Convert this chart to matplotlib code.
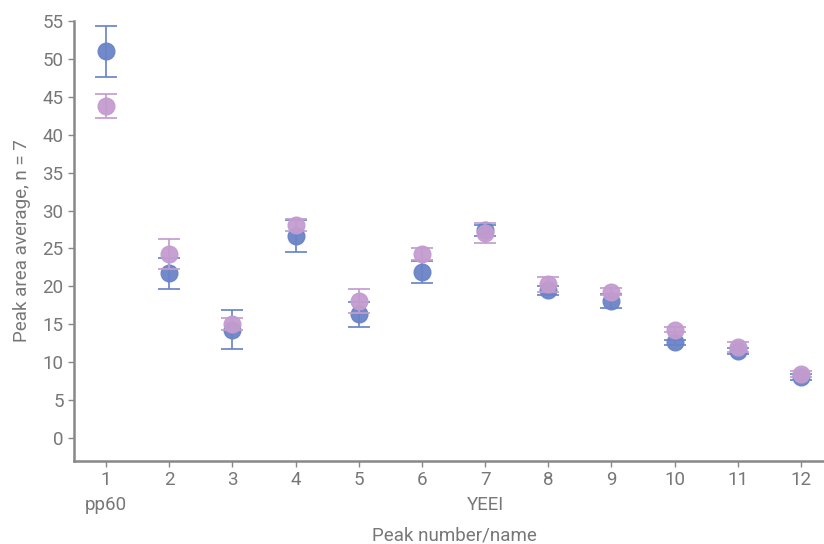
import matplotlib
matplotlib.use("Agg")
import matplotlib.pyplot as plt

peaks = [1, 2, 3, 4, 5, 6, 7, 8, 9, 10, 11, 12]
tick_labels = ["1\npp60", "2", "3", "4", "5", "6", "7\nYEEI", "8", "9", "10", "11", "12"]
blue_mean = [51.0, 21.7, 14.3, 26.7, 16.3, 21.9, 27.4, 19.5, 18.1, 12.6, 11.5, 8.1]
blue_err = [3.4, 2.1, 2.6, 2.1, 1.7, 1.4, 0.7, 0.6, 0.9, 0.3, 0.4, 0.4]
purple_mean = [43.8, 24.3, 15.0, 28.1, 18.1, 24.3, 27.05, 20.3, 19.3, 14.3, 12.0, 8.5]
purple_err = [1.6, 2.0, 0.8, 0.8, 1.6, 0.8, 1.35, 1.0, 0.5, 0.3, 0.6, 0.4]

plt.rcParams['font.family'] = ['Roboto', 'DejaVu Sans']
text_color = '#777777'

fig = plt.figure(figsize=(8.24, 5.44), dpi=100)
ax = fig.add_axes([74/824, (544-461)/544, 1 - 74/824, (461-21)/544])

blue = '#6a84c8'
purple = '#c39ccf'
ax.errorbar(peaks, blue_mean, yerr=blue_err, fmt='o', color=blue, ms=12,
            capsize=8, elinewidth=1.3, capthick=1.3, alpha=0.95, zorder=3)
ax.errorbar(peaks, purple_mean, yerr=purple_err, fmt='o', color=purple, ms=12,
            capsize=8, elinewidth=1.3, capthick=1.3, alpha=0.95, zorder=4)

ax.set_xlim(0.4935, 12.364)
ax.set_ylim(-3.03, 55)
ax.set_xticks(peaks)
ax.set_xticklabels(tick_labels, linespacing=1.45)
ax.set_yticks(range(0, 56, 5))

for s in ['top', 'right']:
    ax.spines[s].set_visible(False)
for s in ['left', 'bottom']:
    ax.spines[s].set_color('#888888')
    ax.spines[s].set_linewidth(1.8)

ax.tick_params(axis='both', colors='#888888', labelcolor=text_color, labelsize=13.5,
               length=4, width=1)
ax.set_ylabel('Peak area average, n = 7', color=text_color, fontsize=13.5, labelpad=8)
fig.text(454/824, 1 - 536/544, 'Peak number/name', color=text_color, fontsize=13.5,
         ha='center', va='center')

fig.savefig('out.png', dpi=100)
